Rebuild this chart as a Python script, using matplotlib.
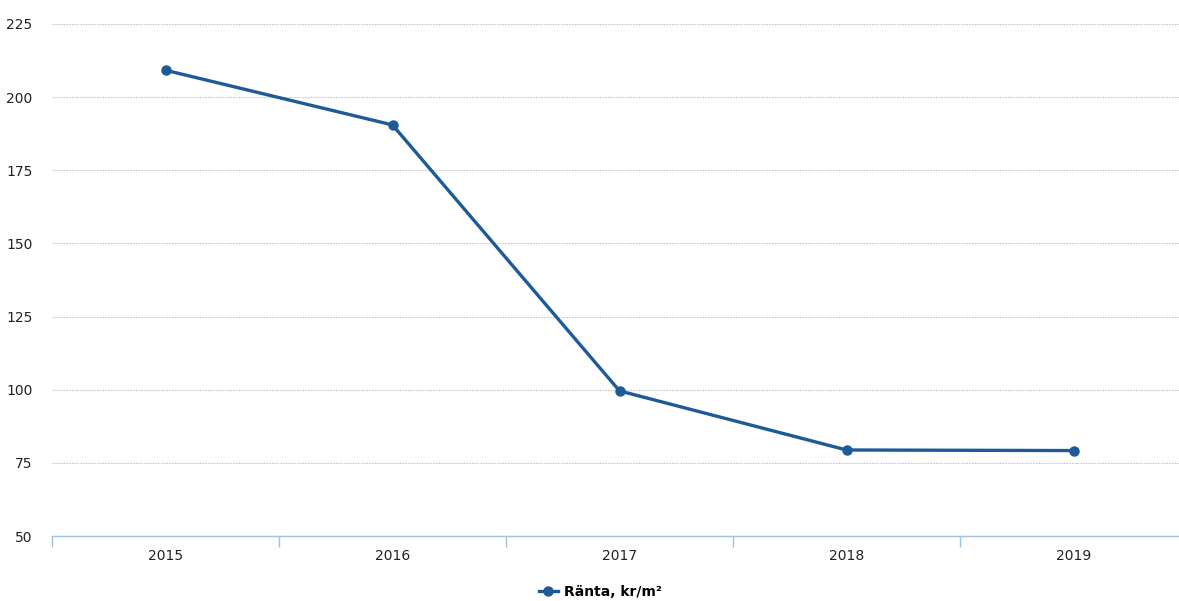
import matplotlib
matplotlib.use("Agg")
import matplotlib.pyplot as plt
from matplotlib.ticker import FixedLocator, NullFormatter

years = ["2015", "2016", "2017", "2018", "2019"]
ranta = [209.2, 190.5, 99.6, 79.4, 79.2]
yticks = [50, 75, 100, 125, 150, 175, 200, 225]
series_label = "Ränta, kr/m²"

line_color = "#1c5b98"

fig = plt.figure(figsize=(11.79, 6.01), dpi=100)
ax = fig.add_axes([52/1179, 1-536/601, (1187-52)/1179, (536-24)/601])

x = list(range(len(years)))
ax.plot(x, ranta, color=line_color, linewidth=2.4, marker="o", markersize=6.5,
        label=series_label, zorder=3)

ax.set_xlim(-0.5, len(years) - 0.5)
ax.set_ylim(50, 225)
ax.set_yticks(yticks)
ax.set_yticklabels([str(v) for v in yticks])
ax.set_xticks(x)
ax.set_xticklabels(years)

for s in ["top", "right", "left"]:
    ax.spines[s].set_visible(False)
ax.spines["bottom"].set_color("#9cc3e0")
ax.spines["bottom"].set_linestyle((0, (2, 1)))
ax.spines["bottom"].set_linewidth(1.0)

ax.yaxis.grid(True, color="#c8c8c8", linestyle=(0, (1.5, 1)), linewidth=0.8)
ax.set_axisbelow(True)

ax.tick_params(axis="y", length=0, pad=14, labelsize=10, labelcolor="#222222")
ax.tick_params(axis="x", which="major", length=0, pad=9, labelsize=10, labelcolor="#222222")
ax.xaxis.set_minor_locator(FixedLocator([i - 0.5 for i in range(len(years) + 1)]))
ax.xaxis.set_minor_formatter(NullFormatter())
ax.tick_params(axis="x", which="minor", length=8, width=1.0, color="#9cc3e0", direction="out")

leg = fig.legend(loc="center", bbox_to_anchor=(600/1179, 1-592/601), frameon=False,
                 prop={"weight": "bold", "size": 10}, handlelength=1.4, handletextpad=0.4)

fig.savefig("out.png", dpi=100, facecolor="white")
